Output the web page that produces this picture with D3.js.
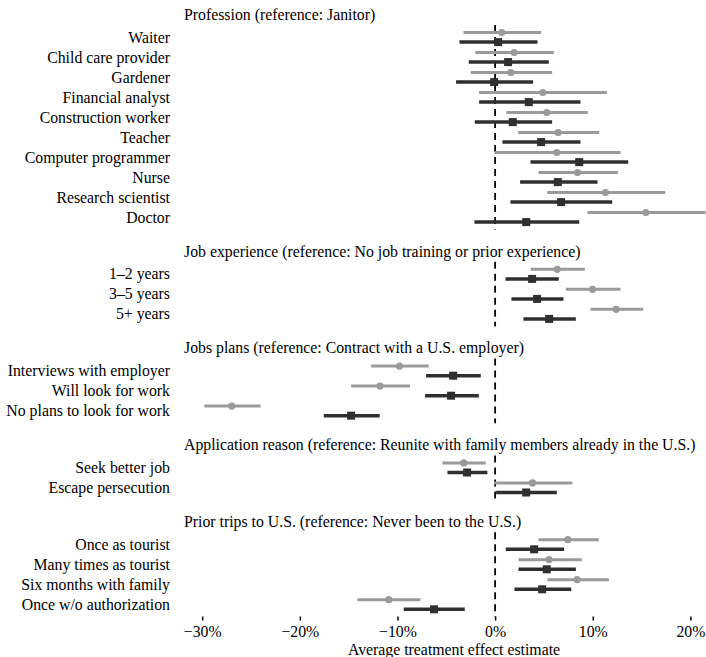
<!DOCTYPE html>
<html>
<head>
<meta charset="utf-8">
<script src="https://cdn.jsdelivr.net/npm/d3@7"></script>
<style>
  html, body { margin: 0; padding: 0; background: #fff; }
  svg { display: block; }
  text { font-family: "Liberation Serif", "Times New Roman", serif; fill: #000; }
</style>
</head>
<body>
<svg id="chart" width="706" height="657"></svg>
<script>
// Section headings (each names the reference level of the attribute)
const sectionTitles = [
  "Profession (reference: Janitor)",
  "Job experience (reference: No job training or prior experience)",
  "Jobs plans (reference: Contract with a U.S. employer)",
  "Application reason (reference: Reunite with family members already in the U.S.)",
  "Prior trips to U.S. (reference: Never been to the U.S.)"
];

// Attribute levels, top to bottom
const rowLabels = [
  "Waiter", "Child care provider", "Gardener", "Financial analyst", "Construction worker",
  "Teacher", "Computer programmer", "Nurse", "Research scientist", "Doctor",
  "1\u20132 years", "3\u20135 years", "5+ years",
  "Interviews with employer", "Will look for work", "No plans to look for work",
  "Seek better job", "Escape persecution",
  "Once as tourist", "Many times as tourist", "Six months with family", "Once w/o authorization"
];

// Section index of each level
const rowSection = [0,0,0,0,0,0,0,0,0,0, 1,1,1, 2,2,2, 3,3, 4,4,4,4];

// First estimate (grey circles): point and 95% interval, in percentage points
const greyEst  = [0.68, 1.95, 1.61, 4.88, 5.29, 6.45, 6.32, 8.44, 11.30, 15.44,
                  6.35, 9.97, 12.40, -9.80, -11.78, -26.98, -3.21, 3.83, 7.45, 5.53, 8.40, -10.89];
const greyLow  = [-3.24, -2.02, -2.49, -1.64, 1.16, 2.36, -0.07, 4.44, 5.33, 9.46,
                  3.65, 7.24, 9.77, -12.70, -14.75, -29.78, -5.40, -0.10, 4.44, 2.39, 5.36, -14.11];
const greyHigh = [4.71, 6.01, 5.84, 11.44, 9.49, 10.66, 12.84, 12.57, 17.42, 21.55,
                  9.19, 12.84, 15.16, -6.80, -8.71, -24.01, -0.96, 7.92, 10.62, 8.88, 11.65, -7.65];

// Second estimate (dark squares)
const darkEst  = [0.31, 1.33, -0.10, 3.45, 1.81, 4.71, 8.61, 6.42, 6.76, 3.18,
                  3.79, 4.30, 5.53, -4.30, -4.51, -14.75, -2.87, 3.18, 4.00, 5.29, 4.82, -6.25];
const darkLow  = [-3.65, -2.70, -4.00, -1.64, -2.08, 0.75, 3.62, 2.56, 1.57, -2.12,
                  1.06, 1.67, 2.90, -7.07, -7.17, -17.55, -4.88, 0.10, 1.09, 2.39, 1.98, -9.36];
const darkHigh = [4.34, 5.50, 3.89, 8.74, 5.84, 8.74, 13.63, 10.49, 11.99, 8.61,
                  6.52, 7.00, 8.27, -1.47, -1.67, -11.82, -0.79, 6.32, 7.07, 8.27, 7.79, -3.11];

const xTicks = [-30, -20, -10, 0, 10, 20];
const xTitle = "Average treatment effect estimate";

// ---- layout ----
const svg = d3.select("#chart");
const labelRight = 170;      // right edge of level labels
const headerLeft = 184;      // left edge of section headings
const headerToRow = 1.14;    // slots between a heading and its first level
const sectionGap = 1.7;      // slots between a section's last level and the next heading
const seriesOffset = 4.8;    // vertical offset of each estimate from the row centre
const panelPad = 7.5;        // extra height of each panel's zero line beyond its marks

// vertical slot positions for headings and levels
const headerPos = [];
const rowPos = [];
const sectionRows = [];
let pos = 0;
sectionTitles.forEach((t, s) => {
  headerPos.push(pos);
  pos += headerToRow;
  const idx = rowSection.map((v, i) => v === s ? i : -1).filter(i => i >= 0);
  sectionRows.push(idx);
  idx.forEach((i, k) => { rowPos[i] = pos; if (k < idx.length - 1) pos += 1; });
  pos += sectionGap;
});

const y = d3.scaleLinear().domain([0, 1]).range([14.5, 34.5]);
const x = d3.scaleLinear().domain([-30, 20]).range([202.2, 690.4]);

const grey = "#9a9a9a";
const dark = "#2f2f2f";
const fontSize = 15.8;
const baseShift = 5.2;

// dashed zero line, one segment per panel
svg.append("g").selectAll("line").data(sectionRows).join("line")
  .attr("x1", x(0)).attr("x2", x(0))
  .attr("y1", d => y(rowPos[d[0]]) - seriesOffset - panelPad)
  .attr("y2", d => y(rowPos[d[d.length - 1]]) + seriesOffset + panelPad)
  .attr("stroke", "#000").attr("stroke-width", 1.8)
  .attr("stroke-dasharray", "7,5");

// section headings
svg.append("g").selectAll("text").data(sectionTitles).join("text")
  .attr("x", headerLeft)
  .attr("y", (d, i) => y(headerPos[i]) + baseShift)
  .attr("font-size", fontSize)
  .text(d => d);

// level labels
svg.append("g").selectAll("text").data(rowLabels).join("text")
  .attr("x", labelRight)
  .attr("y", (d, i) => y(rowPos[i]) + baseShift)
  .attr("text-anchor", "end")
  .attr("font-size", fontSize)
  .text(d => d);

const rows = d3.range(rowLabels.length);

// grey intervals and points
const gGrey = svg.append("g");
gGrey.selectAll("line").data(rows).join("line")
  .attr("x1", i => x(greyLow[i])).attr("x2", i => x(greyHigh[i]))
  .attr("y1", i => y(rowPos[i]) - seriesOffset).attr("y2", i => y(rowPos[i]) - seriesOffset)
  .attr("stroke", grey).attr("stroke-width", 3);
gGrey.selectAll("circle").data(rows).join("circle")
  .attr("cx", i => x(greyEst[i]))
  .attr("cy", i => y(rowPos[i]) - seriesOffset)
  .attr("r", 3.6)
  .attr("fill", grey);

// dark intervals and points
const sq = 8;
const gDark = svg.append("g");
gDark.selectAll("line").data(rows).join("line")
  .attr("x1", i => x(darkLow[i])).attr("x2", i => x(darkHigh[i]))
  .attr("y1", i => y(rowPos[i]) + seriesOffset).attr("y2", i => y(rowPos[i]) + seriesOffset)
  .attr("stroke", dark).attr("stroke-width", 3.5);
gDark.selectAll("rect").data(rows).join("rect")
  .attr("x", i => x(darkEst[i]) - sq / 2)
  .attr("y", i => y(rowPos[i]) + seriesOffset - sq / 2)
  .attr("width", sq).attr("height", sq)
  .attr("fill", dark);

// x axis: short ticks, no domain line
const axisY = 616.5;
const axis = svg.append("g")
  .attr("transform", `translate(0,${axisY})`)
  .call(d3.axisBottom(x).tickValues(xTicks).tickSize(4).tickPadding(5)
    .tickFormat(d => (d < 0 ? "\u2212" + Math.abs(d) : d) + "%"));
axis.select(".domain").remove();
axis.selectAll(".tick line").attr("stroke", "#000").attr("stroke-width", 1.5);
axis.selectAll(".tick text")
  .attr("font-family", "Liberation Serif, serif")
  .attr("font-size", fontSize)
  .attr("fill", "#000");

// axis title
svg.append("text")
  .attr("x", 454)
  .attr("y", 655)
  .attr("text-anchor", "middle")
  .attr("font-size", fontSize)
  .text(xTitle);
</script>
</body>
</html>
